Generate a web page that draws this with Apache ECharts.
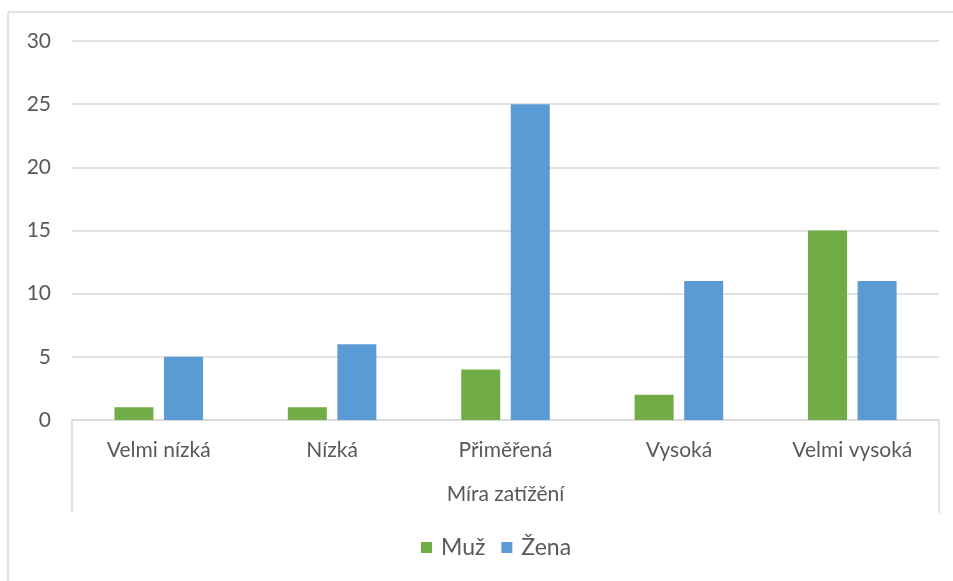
<!DOCTYPE html>
<html>
<head>
<meta charset="utf-8">
<script src="https://cdn.jsdelivr.net/npm/echarts@6/dist/echarts.min.js"></script>
<style>
  html, body { margin: 0; padding: 0; background: #fff; }
  #chart { width: 953px; height: 581px; }
</style>
</head>
<body>
<div id="chart"></div>
<script>
var categories = ['Velmi nízká', 'Nízká', 'Přiměřená', 'Vysoká', 'Velmi vysoká']
var groupTitle = ['Míra zatížění']
var muz = [1, 1, 4, 2, 15]
var zena = [5, 6, 25, 11, 11]
var seriesNames = ['Muž', 'Žena']

var textColor = '#595959'
var lineColor = '#d9d9d9'
var font = 'Lato'

var chart = echarts.init(document.getElementById('chart'))
chart.setOption({
  animation: false,
  color: ['#70ad47', '#5b9bd5'],
  textStyle: { fontFamily: font },
  grid: { left: 72, right: 14, top: 41, bottom: 161 },
  legend: {
    data: seriesNames,
    bottom: 17,
    left: 416,
    itemWidth: 11,
    itemHeight: 11,
    itemGap: 16,
    icon: 'rect',
    textStyle: { color: textColor, fontSize: 23, fontFamily: font, padding: [0, 0, 0, 4] }
  },
  xAxis: [
    {
      type: 'category',
      data: categories,
      axisLine: { lineStyle: { color: lineColor, width: 1.5 } },
      axisTick: { show: false },
      axisLabel: { color: textColor, fontSize: 21, margin: 20, fontFamily: font }
    },
    {
      type: 'category',
      data: groupTitle,
      position: 'bottom',
      axisLine: { show: false },
      axisTick: { show: true, length: 93, lineStyle: { color: lineColor, width: 1.5 } },
      axisLabel: { color: textColor, fontSize: 21, margin: 64, fontFamily: font }
    }
  ],
  yAxis: {
    type: 'value',
    min: 0,
    max: 30,
    interval: 5,
    axisLine: { show: false },
    axisTick: { show: false },
    axisLabel: { color: textColor, fontSize: 21, margin: 21, fontFamily: font },
    splitLine: { lineStyle: { color: lineColor, width: 1.5 } }
  },
  series: [
    {
      name: seriesNames[0],
      type: 'bar',
      data: muz,
      barWidth: '22.5%',
      barGap: '27%'
    },
    {
      name: seriesNames[1],
      type: 'bar',
      data: zena,
      barWidth: '22.5%'
    }
  ],
  graphic: [
    { type: 'line', shape: { x1: 8, y1: 12, x2: 953, y2: 12 }, style: { stroke: lineColor, lineWidth: 1.5 } },
    { type: 'line', shape: { x1: 8, y1: 12, x2: 8, y2: 581 }, style: { stroke: lineColor, lineWidth: 1.5 } }
  ]
})
</script>
</body>
</html>
